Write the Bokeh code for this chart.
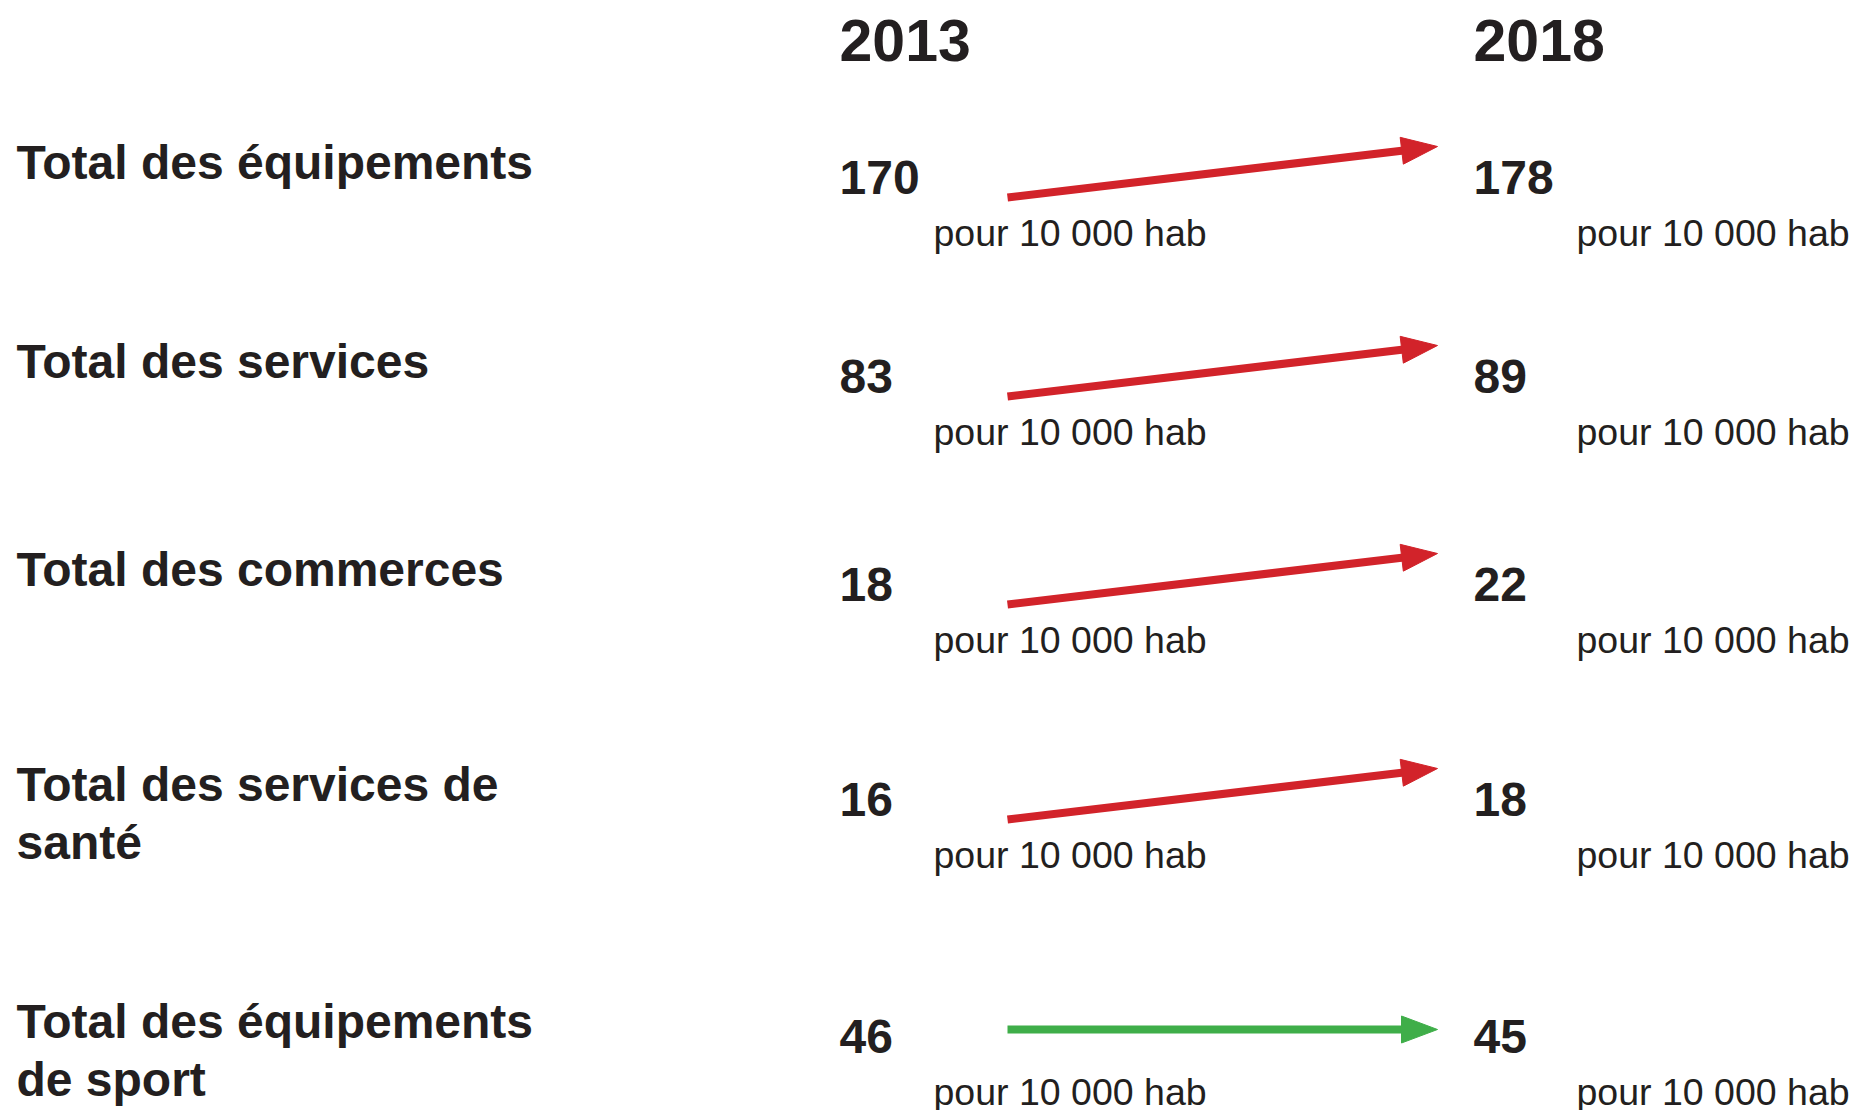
import math
from bokeh.plotting import figure
from bokeh.models import Range1d
from bokeh.core.properties import value
from bokeh.embed import file_html
from bokeh.resources import INLINE

# ---------------- data ----------------
categories = [
    "Total des équipements",
    "Total des services",
    "Total des commerces",
    "Total des services de\nsanté",
    "Total des équipements\nde sport",
]
values_2013 = [170, 83, 18, 16, 46]
values_2018 = [178, 89, 22, 18, 45]
years = ["2013", "2018"]
unit_label = "pour 10 000 hab"

# ---------------- layout (pixels) ----------------
W, H = 1856, 1110
row_baseline = [193, 392, 600, 815, 1052]
label_x = 16
label_dy = -15
label_line_h = 58
col_x = [839, 1473]
unit_x = [933, 1576]
unit_dy = 52
year_baseline = 60
arrow_x0, arrow_x1 = 1007, 1437
arrow_rise_start, arrow_rise_end = 4, -47
arrow_flat = -23
head_len, head_half = 36, 13.5
SZ_LABEL, SZ_YEAR, SZ_NUM, SZ_UNIT = 48, 59, 48, 37.5
BASE_K = 0.34  # renderer's alphabetic-baseline correction (fraction of font size)
TXT = "#231f20"
RED = "#d2232a"
GREEN = "#3fae49"
FONT = value("Liberation Sans")


def by(y, size):
    return y - BASE_K * size


p = figure(width=W, height=H, x_range=Range1d(0, W), y_range=Range1d(H, 0),
           output_backend="svg", toolbar_location=None, min_border=0, title=None,
           x_axis_location=None, y_axis_location=None)
p.grid.visible = False
p.outline_line_color = None
p.background_fill_color = "white"
p.border_fill_color = "white"

# category labels (split lines)
lx, ly, lt = [], [], []
for i, cat in enumerate(categories):
    for j, line in enumerate(cat.split("\n")):
        lx.append(label_x)
        ly.append(by(row_baseline[i] + label_dy + j * label_line_h, SZ_LABEL))
        lt.append(line)
p.text(x=lx, y=ly, text=lt, text_font=FONT, text_font_style="bold", text_font_size=f"{SZ_LABEL}px",
       text_color=TXT, text_baseline="alphabetic", text_align="left")

# year headers
p.text(x=col_x, y=[by(year_baseline, SZ_YEAR)] * len(years), text=years, text_font=FONT,
       text_font_style="bold", text_font_size=f"{SZ_YEAR}px", text_color=TXT,
       text_baseline="alphabetic", text_align="left")

# values
nx, ny, nt, ux_, uy_, ut = [], [], [], [], [], []
for i in range(len(categories)):
    for c, vals in enumerate([values_2013, values_2018]):
        nx.append(col_x[c]); ny.append(by(row_baseline[i], SZ_NUM)); nt.append(str(vals[i]))
        ux_.append(unit_x[c]); uy_.append(by(row_baseline[i] + unit_dy, SZ_UNIT)); ut.append(unit_label)
p.text(x=nx, y=ny, text=nt, text_font=FONT, text_font_style="bold", text_font_size=f"{SZ_NUM}px",
       text_color=TXT, text_baseline="alphabetic", text_align="left")
p.text(x=ux_, y=uy_, text=ut, text_font=FONT, text_font_style="normal", text_font_size=f"{SZ_UNIT}px",
       text_color=TXT, text_baseline="alphabetic", text_align="left")

# arrows
sx0, sy0, sx1, sy1, scol = [], [], [], [], []
hx, hy, hcol = [], [], []
for i in range(len(categories)):
    nb = row_baseline[i]
    up = values_2018[i] > values_2013[i]
    if up:
        ys, ye = nb + arrow_rise_start, nb + arrow_rise_end
        col = RED
    else:
        ys = ye = nb + arrow_flat
        col = GREEN
    dx, dy = arrow_x1 - arrow_x0, ye - ys
    L = math.hypot(dx, dy)
    ux, uy = dx / L, dy / L
    bx, byy = arrow_x1 - head_len * ux, ye - head_len * uy
    px, py = -uy, ux
    sx0.append(arrow_x0); sy0.append(ys)
    sx1.append(bx + 2 * ux); sy1.append(byy + 2 * uy); scol.append(col)
    hx.append([arrow_x1, bx + head_half * px, bx - head_half * px])
    hy.append([ye, byy + head_half * py, byy - head_half * py])
    hcol.append(col)

p.segment(x0=sx0, y0=sy0, x1=sx1, y1=sy1, line_color=scol, line_width=8, line_cap="butt")
p.patches(xs=hx, ys=hy, fill_color=hcol, line_color=hcol, line_width=1)

open("out.html", "w").write(file_html(p, INLINE))
